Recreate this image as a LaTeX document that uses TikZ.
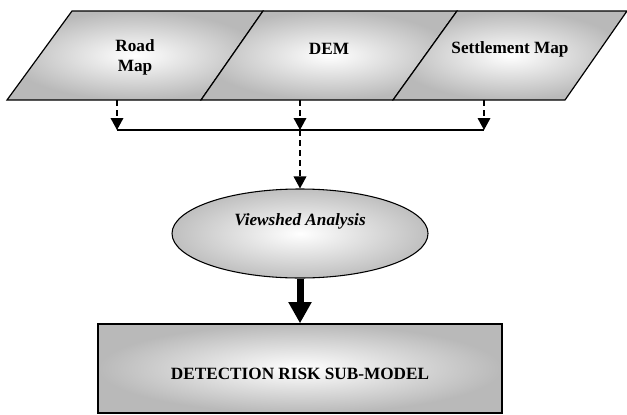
\documentclass[tikz,border=0pt]{standalone}
\usepackage{fontspec}
\setmainfont{Liberation Serif}
\usetikzlibrary{shapes.geometric,arrows.meta}
\begin{document}
\begin{tikzpicture}
[x=0.75pt,y=-0.75pt,
  mapdecorate/.style={draw,line width=0.9pt,line join=miter,
    shading=radial,inner color=white,outer color=gray!55},
  stepdecorate/.style={shape=ellipse,minimum width=192pt,
    minimum height=66.75pt,inner sep=0pt,draw,line width=0.8pt,
    shading=radial,inner color=white,outer color=gray!50},
  modeldecorate/.style={shape=rectangle,minimum width=303pt,
    minimum height=66.75pt,inner sep=0pt,draw,line width=1pt,
    shading=radial,inner color=white,outer color=gray!55},
  labeldecorate/.style={font=\fontsize{12.9}{15}\selectfont\bfseries,
    align=center,inner sep=0pt},
  linedecorate/.style={-,line width=0.8pt},
  feeddecorate/.style={line width=1pt,dash pattern=on 4.5pt off 3pt,
    -{Triangle[length=9pt,width=9.5pt]}}]
\useasboundingbox (0,0) rectangle (627,414);
%% input maps
\foreach \nodename/\bl/\br/\tr/\tl/\x/\y/\txt in {
  road/7/201/263/72/135/57/{Road\\Map},
  dem/201/393/457/263/329/48.5/DEM,
  settle/393/565/627/457/510/49/Settlement Map} {
  \path[mapdecorate] (\bl,100) -- (\br,100) -- (\tr,11) -- (\tl,11) -- cycle;
  \node (\nodename) at (\x,\y) [labeldecorate] {\txt};
}
\coordinate (mapbase) at (0,100);
%% analysis and model
\node (viewshed) at (300,233.5) [stepdecorate] {};
\node (viewshedtext) at ([yshift=9pt]viewshed.center)
  [labeldecorate,font=\fontsize{12.9}{15}\selectfont\bfseries\itshape]
  {Viewshed Analysis};
\node (riskmodel) at (300,368.5) [modeldecorate] {};
\node (riskmodeltext) at ([yshift=-4pt]riskmodel.center) [labeldecorate]
  {DETECTION RISK SUB-MODEL};
%% edges or lines
\coordinate (busl) at (117,130);
\coordinate (busm) at (300,130);
\coordinate (busr) at (484,130);
\draw[linedecorate] (busl) -- (busr);
\foreach \endnode in {busl, busm, busr} {
  \draw[feeddecorate] (\endnode |- mapbase) -- (\endnode);
}
\draw[feeddecorate] (busm) -- (viewshed.north);
\draw[line width=5.25pt,-{Triangle[length=16pt,width=16.5pt]}]
  (viewshed.south) -- (riskmodel.north);
\end{tikzpicture}
\end{document}
